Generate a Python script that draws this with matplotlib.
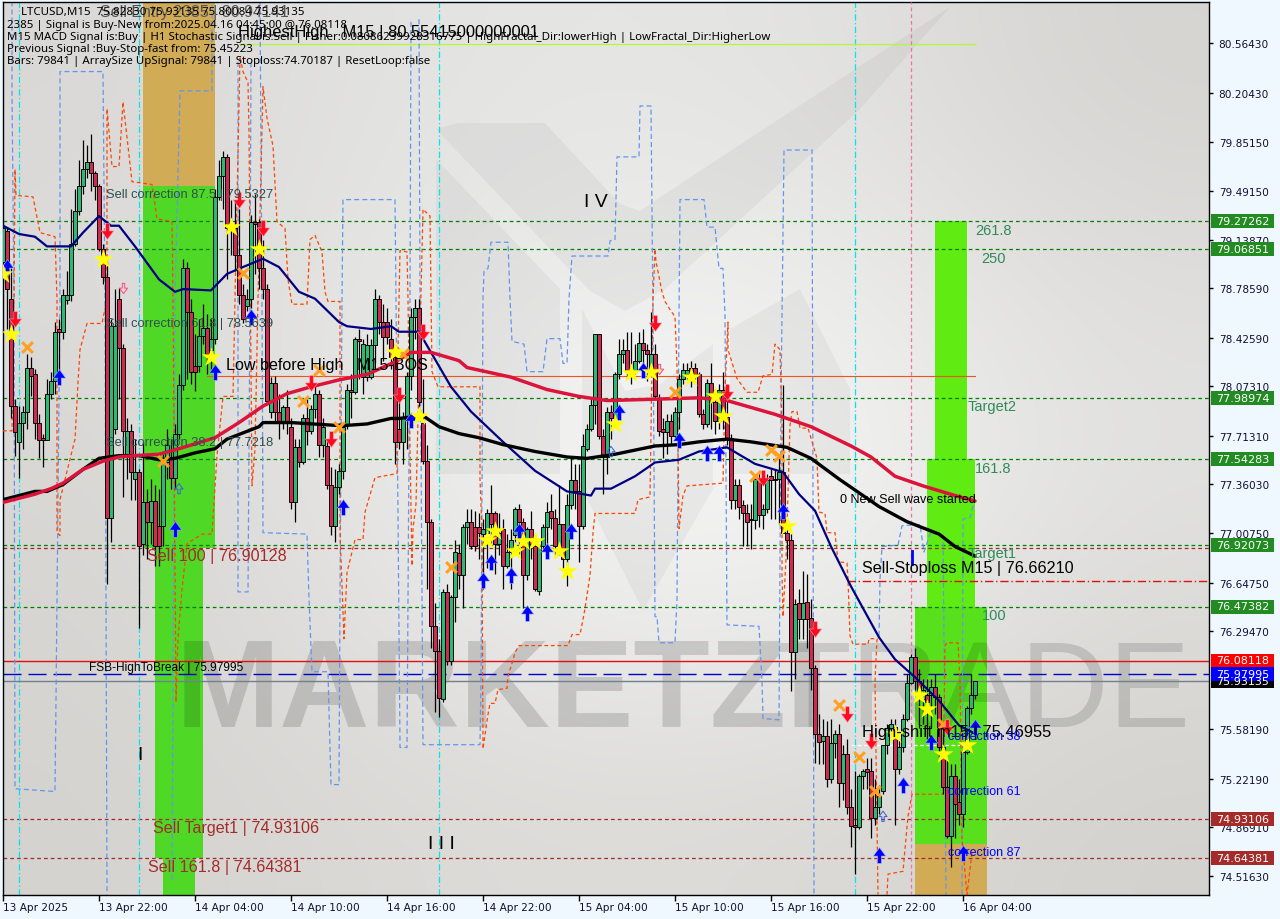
import numpy as np
import matplotlib
matplotlib.use("Agg")
import matplotlib.pyplot as plt
from matplotlib.colors import to_rgb
from matplotlib.patches import Polygon, Rectangle
from matplotlib.path import Path
from matplotlib.transforms import Affine2D

# ---------- candles: (open, high, low, close), one list per six-hour session
session_0 = [(78.98,79.25,78.82,79.22),(79.20,79.23,78.49,78.78),(78.71,78.93,77.84,77.93),(77.93,77.98,77.57,77.74),(77.67,77.93,77.41,77.81),(77.81,77.93,77.62,77.89),(77.89,78.31,77.76,78.21),(78.21,78.29,78.00,78.15),(78.16,78.20,77.69,77.81),(77.81,77.87,77.55,77.68),(77.70,77.73,77.49,77.68),(77.68,78.13,77.68,78.02),(78.02,78.18,77.98,78.11),(78.11,78.54,78.02,78.47),(78.49,78.56,78.10,78.47),(78.47,78.78,78.42,78.74),(78.70,78.91,78.67,78.74),(78.74,79.36,78.69,79.11),(79.11,79.51,79.09,79.35),(79.35,79.72,79.32,79.53),(79.53,79.86,79.47,79.65),(79.65,79.83,79.59,79.70),(79.70,79.91,79.49,79.62),(79.62,79.64,79.43,79.53)]
session_1 = [(79.53,79.54,79.06,79.07),(79.07,79.11,78.82,78.87),(78.87,78.98,76.64,77.12),(77.12,78.56,76.94,78.51),(77.76,78.78,77.73,78.51),(78.71,78.79,77.98,78.35),(78.35,78.38,77.27,77.75),(77.58,77.84,77.40,77.75),(77.75,77.80,77.25,77.45),(77.40,77.69,77.25,77.45),(77.45,77.47,76.32,76.91),(76.93,77.67,76.85,77.23),(77.23,77.33,76.82,77.09),(77.09,77.40,76.93,77.24),(77.24,77.36,76.77,76.91),(77.06,77.33,76.77,76.91),(77.06,77.58,76.91,77.52),(77.52,77.76,77.40,77.65),(77.55,77.69,77.33,77.41),(77.41,77.80,77.33,77.73),(77.73,78.16,77.69,78.08),(78.08,79.00,78.05,78.93),(78.93,78.98,78.13,78.61),(78.61,78.71,78.09,78.18)]
session_2 = [(78.22,78.45,78.04,78.18),(78.22,78.56,78.18,78.44),(78.44,78.67,78.38,78.50),(78.50,78.60,78.16,78.31),(78.34,78.56,78.20,78.42),(78.42,79.51,78.38,79.45),(79.45,79.72,79.43,79.60),(79.60,79.78,79.36,79.74),(79.74,79.76,78.85,79.22),(79.23,79.43,79.03,79.22),(79.22,79.43,78.91,79.03),(79.03,79.36,78.67,78.74),(78.74,78.82,78.53,78.56),(78.66,78.78,78.62,78.71),(78.71,79.32,78.64,79.27),(79.27,79.47,78.89,79.25),(79.27,79.29,78.78,78.93),(78.93,79.14,78.71,78.78),(78.78,78.82,77.94,77.97),(77.89,78.14,77.84,78.10),(78.10,78.15,77.82,77.89),(77.89,78.02,77.69,77.81),(77.81,77.94,77.76,77.92),(77.92,78.05,77.73,77.81)]
session_3 = [(77.78,77.84,77.18,77.23),(77.23,77.69,77.09,77.63),(77.63,77.69,77.49,77.52),(77.52,77.87,77.51,77.84),(77.84,77.98,77.65,77.75),(77.75,77.94,77.73,77.91),(77.91,78.09,77.84,78.02),(78.02,78.05,77.56,77.65),(77.65,77.84,77.56,77.78),(77.64,77.69,77.33,77.36),(77.36,77.49,76.99,77.06),(77.06,77.47,76.94,77.34),(77.34,77.51,77.29,77.46),(77.46,77.80,77.40,77.78),(77.80,78.09,77.76,78.05),(78.05,78.16,77.84,78.03),(78.03,78.43,78.02,78.42),(78.42,78.49,78.13,78.40),(78.14,78.42,78.02,78.38),(78.14,78.45,78.11,78.37),(78.14,78.42,78.13,78.37),(78.37,78.78,78.24,78.71),(78.71,78.74,78.45,78.54),(78.54,78.67,78.26,78.43)]
session_4 = [(78.54,78.64,78.38,78.43),(78.42,78.56,78.20,78.29),(78.29,78.38,77.51,77.67),(77.76,77.98,77.62,77.67),(77.67,77.89,77.51,77.84),(77.84,78.18,77.62,78.15),(78.15,78.64,78.05,78.58),(78.58,78.71,78.42,78.64),(78.64,78.71,77.91,77.96),(77.81,78.13,77.51,77.53),(77.53,77.65,76.60,77.09),(77.09,77.11,76.17,76.33),(76.33,76.50,75.71,76.15),(76.15,76.24,75.67,75.81),(75.80,76.60,75.78,76.58),(76.58,76.64,76.05,76.08),(76.08,76.56,76.05,76.54),(76.54,76.96,76.36,76.87),(76.86,76.93,76.60,76.70),(76.70,77.07,76.46,77.05),(77.05,77.18,76.93,77.09),(77.09,77.18,76.89,76.91),(77.05,77.17,76.88,76.91),(77.05,77.15,76.82,77.01)]
session_5 = [(77.00,77.11,76.60,77.04),(77.01,77.18,76.75,77.15),(77.15,77.36,76.93,77.07),(77.15,77.17,76.71,76.93),(76.93,77.15,76.85,77.01),(77.04,77.11,76.60,76.77),(76.77,77.00,76.75,76.87),(76.87,77.04,76.60,76.96),(76.99,77.20,76.93,77.18),(77.18,77.22,76.85,77.09),(77.09,77.12,76.46,76.70),(76.70,77.05,76.67,77.04),(77.04,77.17,76.82,76.93),(76.91,76.93,76.59,76.60),(76.59,76.93,76.56,76.91),(76.91,77.07,76.89,77.05),(77.05,77.23,76.89,77.16),(77.17,77.29,77.04,77.12),(77.12,77.18,76.85,76.91),(76.91,77.36,76.85,77.07),(77.07,77.07,76.75,76.82),(76.82,77.29,76.62,77.21),(77.21,77.55,77.18,77.39),(77.39,77.51,77.18,77.31)]
session_6 = [(77.31,77.51,76.80,77.06),(77.06,77.73,77.04,77.64),(77.62,77.80,77.60,77.76),(77.76,77.98,77.75,77.94),(77.94,78.45,77.80,78.45),(78.45,78.45,77.69,77.71),(77.71,77.76,77.29,77.56),(77.56,77.92,77.44,77.89),(77.89,77.94,77.69,77.84),(77.84,78.18,77.82,78.16),(78.16,78.42,78.13,78.31),(78.31,78.42,78.24,78.34),(78.34,78.47,78.13,78.18),(78.21,78.47,78.09,78.18),(78.18,78.38,78.16,78.26),(78.26,78.47,78.24,78.39),(78.39,78.49,78.21,78.34),(78.34,78.38,78.11,78.31),(78.18,78.61,78.16,78.31),(78.31,78.38,77.98,78.00),(77.98,78.02,77.71,77.75),(77.76,77.84,77.55,77.74),(77.74,77.87,77.58,77.82),(77.82,77.87,77.65,77.71)]
session_7 = [(77.71,77.92,77.69,77.89),(77.89,78.16,77.76,78.13),(78.13,78.24,78.09,78.19),(78.16,78.24,78.13,78.19),(78.21,78.26,78.07,78.16),(78.21,78.24,78.13,78.16),(78.16,78.18,77.85,77.87),(77.87,77.91,77.76,77.80),(77.80,78.13,77.78,78.10),(78.10,78.24,77.76,77.96),(77.96,78.02,77.73,77.82),(77.82,78.09,77.76,78.05),(78.05,78.18,77.76,77.85),(77.85,78.09,77.65,77.70),(77.70,77.73,77.18,77.25),(77.25,77.40,77.18,77.36),(77.36,77.40,77.11,77.20),(77.21,77.25,76.91,77.15),(77.15,77.22,76.91,77.09),(77.11,77.22,76.89,77.10),(77.10,77.44,77.04,77.40),(77.40,77.46,77.05,77.14),(77.14,77.22,77.04,77.18),(77.18,77.44,77.15,77.39)]
session_8 = [(77.42,77.47,77.11,77.39),(77.39,77.47,77.11,77.40),(77.40,77.58,77.07,77.45),(77.45,78.08,77.04,77.01),(77.01,77.11,76.82,76.96),(76.96,77.00,75.86,76.14),(76.14,76.53,75.95,76.49),(76.50,76.60,76.24,76.38),(76.38,76.73,76.24,76.50),(76.51,76.71,76.17,76.38),(76.39,76.53,75.87,76.03),(76.03,76.05,75.34,75.55),(75.55,75.69,75.33,75.49),(75.50,75.66,75.33,75.53),(75.53,75.64,75.16,75.22),(75.22,75.66,75.19,75.48),(75.48,75.58,75.37,75.55),(75.55,75.62,75.02,75.19),(75.19,75.47,75.07,75.40),(75.40,75.51,74.97,75.02),(75.02,75.15,74.73,74.88),(74.89,75.28,74.53,74.87),(74.87,75.26,74.86,75.24),(75.24,75.29,75.15,75.28)]
session_9 = [(75.29,75.37,75.15,75.27),(75.28,75.37,74.79,74.94),(74.94,75.22,74.89,75.02),(75.02,75.18,74.97,75.10),(75.13,75.47,75.11,75.47),(75.47,75.62,75.40,75.59),(75.59,75.66,75.55,75.62),(75.60,75.66,74.89,75.29),(75.29,75.51,75.26,75.45),(75.45,75.69,75.42,75.66),(75.66,75.98,75.64,75.92),(75.92,76.13,75.91,76.11),(76.11,76.17,75.87,75.93),(75.93,76.02,75.59,75.80),(75.80,75.95,75.62,75.87),(75.83,75.95,75.51,75.78),(75.83,75.95,75.59,75.89),(75.89,75.98,75.69,75.82),(75.82,75.84,75.37,75.45),(75.45,75.55,75.11,75.16),(75.16,75.37,74.79,74.81),(74.81,75.33,74.58,75.24),(75.24,75.33,74.79,75.04),(75.05,75.22,74.89,74.97),(74.97,75.44,74.87,75.42),(75.42,75.75,75.40,75.74),(75.74,75.98,75.69,75.83),(75.83,75.93,75.80,75.93)]
sessions = [session_0, session_1, session_2, session_3, session_4, session_5, session_6, session_7, session_8, session_9]

# ---------- moving averages: (bar, price)
ma_navy = [(0,79.24),(4,79.18),(8,79.16),(11,79.09),(14,79.09),(17,79.09),(20,79.19),(24,79.31),(27,79.24),(29,79.24),(33,79.09),(39,78.85),(43,78.76),(45,78.78),(52,78.77),(56,78.89),(60,78.94),(65,79.00),(69,78.94),(74,78.76),(78,78.71),(84,78.54),(86,78.51),(92,78.49),(97,78.51),(99,78.47),(104,78.47),(108,78.27),(112,78.07),(117,77.89),(125,77.67),(133,77.46),(141,77.31),(147,77.28),(148,77.33),(152,77.33),(158,77.42),(163,77.52),(169,77.54),(174,77.60),(181,77.63),(188,77.51),(195,77.45),(199,77.29),(203,77.17),(207,76.91),(212,76.62),(219,76.25),(223,76.09),(228,75.96),(234,75.79),(239,75.61),(243,75.55)]
ma_black = [(0,77.25),(8,77.31),(11,77.31),(15,77.36),(20,77.47),(24,77.55),(29,77.57),(34,77.57),(39,77.54),(43,77.55),(48,77.59),(53,77.62),(56,77.69),(64,77.78),(65,77.81),(72,77.81),(83,77.79),(86,77.79),(91,77.80),(97,77.84),(99,77.84),(105,77.86),(109,77.78),(114,77.73),(119,77.70),(125,77.65),(133,77.60),(141,77.56),(146,77.55),(153,77.58),(163,77.64),(169,77.65),(174,77.67),(181,77.69),(187,77.67),(196,77.63),(202,77.55),(209,77.40),(219,77.20),(226,77.09),(234,77.00),(238,76.91),(243,76.84)]
ma_crimson = [(0,77.23),(8,77.29),(12,77.33),(15,77.37),(20,77.47),(25,77.53),(29,77.56),(33,77.57),(39,77.58),(44,77.62),(53,77.70),(59,77.81),(65,77.93),(71,78.02),(77,78.07),(84,78.12),(91,78.16),(98,78.25),(102,78.32),(107,78.32),(114,78.26),(116,78.21),(127,78.14),(136,78.05),(144,78.00),(151,77.97),(163,77.98),(174,77.99),(181,77.97),(193,77.87),(199,77.81),(202,77.78),(212,77.64),(217,77.56),(223,77.42),(230,77.35),(238,77.28),(243,77.24)]

# ---------- dashed envelopes: (bar, price)
orange_a = [(0,77.75),(2.25,77.75),(2.75,78.71),(3,79.65),(3.25,79.46),(7.5,79.45),(9.25,79.19),(13,79.16),(13.5,78.71),(13.5,77.01),(14.25,76.99),(14.25,77.25),(18,77.69),(18.75,78.10),(19.25,78.34),(21,78.53),(24.75,78.53),(26,78.71),(26,80.09),(27.25,79.67),(29,79.67),(30,80.14),(32.25,79.56),(37.25,79.54),(38.5,79.29),(42.25,79.27),(42.5,78.71),(43.25,75.78),(43.75,76.24),(44.75,76.60),(46,76.93),(49.75,77.00),(52.25,77.00),(53.5,77.57),(55,78.00),(57.5,78.00),(59.25,80.47),(60,80.36),(61.25,80.28),(61.5,79.92),(62.25,77.35),(63,77.62),(63.75,78.71),(65,80.25),(66,80.02),(67.5,79.82),(68.5,79.27),(70.5,79.22),(71.25,78.85),(72.25,78.67),(76,78.67),(76.75,79.14),(78,79.17),(79.75,79.05),(80.5,78.76),(81.25,78.69),(84.25,78.69),(84.25,77.01),(85.25,76.24),(86,76.72),(88,76.96),(90,76.96),(90.5,77.16),(93,77.41),(98.5,77.44),(98.5,77.98),(99.25,79.06),(101,79.05),(101.25,78.71),(101.75,77.62),(102.25,76.77),(102.5,77.04),(103.25,77.22),(105,79.36),(106.75,79.31),(107.25,78.18),(108.75,78.07),(119.25,78.07),(119.25,77.40),(119.75,77.01),(120,75.44),(120.75,75.59),(121.25,75.69),(121.75,75.77),(123,75.77),(123.75,75.87),(126,75.88),(126.25,75.97),(127.25,76.06),(128,76.14),(129,76.19),(141.25,76.19),(142.25,76.27),(144.25,76.27),(145,76.38),(145.5,76.46),(146.75,76.70),(147.5,77.01),(148,77.15),(158,77.15),(158.75,77.25),(161.75,77.27),(162.5,78.71),(163,79.07),(163.25,78.98),(164.75,78.76),(165.5,78.69),(167,78.62),(168,78.58),(168.5,78.22),(169,77.04),(170,77.28),(171,77.35),(180,77.37),(180.5,78.05),(181.25,78.54),(181.25,78.34),(183.5,78.13),(186,78.03),(188.75,78.03),(190,78.15),(192.25,78.16),(193,78.38),(194.25,78.34),(194.75,77.79),(194.75,76.70),(195,76.40),(195.75,76.82),(196.75,77.79),(197.25,77.89),(198.5,77.89),(199.25,77.77),(201.25,77.77),(203.5,77.55),(204,77.16),(205.5,77.15),(206,77.01),(208,77.01),(208.75,76.80),(211,76.79),(211.25,76.67),(211.75,76.26),(212.5,76.20),(216.25,76.20),(216.5,76.24),(218.5,76.24),(218,75.93),(218.75,74.38)]
orange_b = [(221,74.38),(221.25,74.53),(225,74.55),(226.25,74.95),(227.25,75.11),(235,75.11),(235.5,76.19),(236,76.21),(238.75,76.21),(239.25,75.93),(239.75,74.79),(241,74.38),(242.25,74.69)]

blue_a = [(2.25,80.87),(2.25,80.20),(2.75,78.71),(3,75.15),(13,75.13),(13.25,75.80),(14.25,78.71),(14.25,80.36),(25,80.36),(25.5,78.71),(26,74.38)]
blue_b = [(42.25,74.49),(43,78.71),(44.25,80.22),(52.25,80.22),(52.25,80.87)]
blue_c = [(58.75,80.43),(58.75,76.58),(59,76.58),(61.25,76.58),(61.75,78.71),(62,80.43)]
blue_d = [(64.25,80.87),(64.75,78.71),(65,77.01),(76,77.00),(76.5,76.53),(77.25,76.00),(81.25,76.00),(81.5,75.71),(82,75.18),(84,75.18),(84.25,76.53),(84.75,78.71),(85,79.43),(98,79.43),(98.5,77.98),(99.25,75.45),(101,75.45),(101.75,78.71),(102,80.74)]
blue_e = [(104,80.74),(104.25,78.71),(105,75.47),(119.25,75.47),(119.5,75.93),(120,78.71),(120.25,78.91),(121.25,78.93),(122,79.12),(126.25,79.12),(126.75,78.71),(127.25,78.40),(130.25,78.38),(131,78.18),(135,78.18),(136,78.42),(139.25,78.42),(140,78.24),(141,78.24),(141.5,78.71),(142.25,79.02),(151.25,79.02),(151.75,79.13),(153,79.14),(153.5,79.74),(159,79.74),(159.25,80.11),(162,80.11),(162.5,78.59),(163,76.40),(163.5,76.40),(164,76.21),(168,76.21),(168.5,76.53),(169,78.59),(169.25,79.43),(175.25,79.43),(176,79.23),(178,79.23),(179,78.93),(180,78.93),(180.5,78.59),(181,76.34),(189,76.33),(189.75,75.93),(190,75.66),(194,75.65),(194.5,77.98),(195.25,79.79),(202.25,79.79),(202.5,77.25),(202.75,74.38)]
blue_f = [(219,76.26),(219.25,76.67),(219.75,76.91),(223.75,76.92),(224.75,77.06),(229.25,77.07),(230.25,76.87),(231.75,77.00),(235,77.00),(235.25,76.24),(235.75,74.38)]
blue_g = [(239.75,74.38),(240,77.11),(241.75,77.12),(242.75,77.23)]

# ---------- signal markers: (bar, price)
star_marks = [(0,78.89),(2,78.45),(25,79.00),(57,79.23),(64,79.07),(52,78.29),(98,78.32),(104,77.86),(153,77.80),(157,78.17),(162,78.18),(172,78.14),(178,78.00),(180,77.86),(121,76.96),(123,77.02),(128,76.88),(130,76.95),(133,76.95),(139,76.88),(141,76.73),(196,77.06),(229,75.83),(231,75.73),(235,75.40),(241,75.47),(223,75.55)]
up_marks = [(1,78.94),(14,78.14),(43,77.04),(53,78.18),(62,78.58),(85,77.20),(102,77.83),(120,76.67),(122,76.80),(127,76.70),(129,77.02),(136,76.88),(142,77.02),(131,76.43),(154,77.89),(160,78.19),(169,77.68),(176,77.59),(179,77.59),(195,77.17),(219,74.67),(225,75.18),(232,75.49),(243,75.60),(240,74.68)]
down_marks = [(3,78.56),(26,79.20),(59,79.43),(65,79.22),(77,78.10),(82,77.69),(99,78.01),(105,78.47),(163,78.53),(181,78.03),(190,77.41),(203,76.31),(211,75.69),(217,75.50),(236,75.60)]
cross_marks = [(6,78.36),(60,78.90),(40,77.53),(75,77.97),(79,78.19),(84,77.78),(100,78.31),(112,76.76),(168,78.03),(192,77.61),(194,77.57),(188,77.42),(209,75.76),(214,75.38),(218,75.13),(235,75.62)]
pink_marks = [(30,78.79),(164,78.20)]
hollow_blue_marks = [(44,77.33),(152,77.60),(220,74.95)]

# ---------- levels and labels
green_levels = [79.27262, 79.06851, 77.98974, 77.54283, 76.92073, 76.47382]
brown_levels = [76.90128, 74.93106, 74.64381]
tag_green = [79.27262, 79.06851, 77.98974, 77.54283, 76.92073, 76.47382]
tag_brown = [74.93106, 74.64381]
price_ticks = [80.56430, 80.20430, 79.85150, 79.49150, 79.13870, 78.78590, 78.42590, 78.07310, 77.71310, 77.36030, 77.00750, 76.64750, 76.29470, 75.58190, 75.22190, 74.86910, 74.51630]
time_bars = [0, 24, 48, 72, 96, 120, 144, 168, 192, 216, 240]
time_labels = ["13 Apr 2025", "13 Apr 22:00", "14 Apr 04:00", "14 Apr 10:00", "14 Apr 16:00", "14 Apr 22:00", "15 Apr 04:00", "15 Apr 10:00", "15 Apr 16:00", "15 Apr 22:00", "16 Apr 04:00"]
cyan_bars = [4, 34, 109, 213]
pink_bar = 227
comments = ["2385 | Signal is Buy-New from:2025.04.16 04:45:00 @ 76.08118",
            "M15 MACD Signal is:Buy | H1 Stochastic Signal is:Sell | Fisher:0.08086239928316775 | HighFractal_Dir:lowerHigh | LowFractal_Dir:HigherLow",
            "Previous Signal :Buy-Stop-fast from: 75.45223",
            "Bars: 79841 | ArraySize UpSignal: 79841 | Stoploss:74.70187 | ResetLoop:false"]

# ---------- background shade grid
bg_rows = [["#d9d8d6", "#e2e2e0", "#e6e6e5", "#e2e2e0", "#d6d4d1"],
           ["#dcdbd9", "#e4e4e3", "#efefef", "#ebebea", "#dedddb"],
           ["#d8d7d4", "#e6e6e5", "#f8f8f8", "#f5f5f5", "#e2e2e0"],
           ["#d6d5d2", "#e2e1df", "#ececeb", "#ebebea", "#dbdad7"],
           ["#d4d3d0", "#dad9d6", "#dddcd9", "#dad9d6", "#d3d2ce"]]

W, H = 1280, 920
fig = plt.figure(figsize=(W / 100, H / 100), dpi=100, facecolor="#F0F8FF")
ax = fig.add_axes([3 / W, (H - 896) / H, 1206 / W, 893.5 / H])
ax.set_xlim(0, 301.5)
ax.set_ylim(74.378, 80.869)
ax.set_facecolor("#e6e6e6")

px = Affine2D().scale(1, -1).translate(0, H)   # screen pixels, y down


def label(x, y, s, size=9, color="black", family="Liberation Sans", **kw):
    ax.text(x, y, s, transform=px, fontsize=size, color=color, family=family,
            va="center", ha=kw.pop("ha", "left"), clip_on=False, **kw)


bg = np.array([[to_rgb(c) for c in row] for row in bg_rows])
ax.imshow(bg, extent=(0, 1, 0, 1), transform=ax.transAxes, aspect="auto",
          interpolation="bicubic", zorder=0)
ax.set_xlim(0, 301.5)
ax.set_ylim(74.378, 80.869)

# ---------- logo shapes behind everything
logo_shapes = [
    [(458, 124), (545, 124), (620, 205), (640, 212), (665, 195), (950, 8), (860, 110), (665, 290), (625, 312), (590, 292), (436, 130)],
    [(436, 160), (436, 475), (560, 475), (560, 290)],
    [(582, 310), (582, 490), (643, 612), (713, 490), (713, 345), (660, 385), (625, 392)],
    [(730, 330), (730, 475), (850, 475), (850, 390), (800, 290)],
]
for pts in logo_shapes:
    ax.add_patch(Polygon(pts, closed=True, transform=px, facecolor="black", alpha=0.04,
                         edgecolor="none", zorder=0.5))

# ---------- Fibonacci blocks
GOLD, G1, G2 = "#D1AB55", "#4FD926", "#60EC12"
for b0, b1, lo, hi, col in [
    (35, 53, 79.53, 80.869, GOLD),
    (35, 53, 76.90128, 79.53, G1),
    (38, 50, 74.64381, 76.90128, G1),
    (40, 48, 74.378, 74.64381, G1),
    (233, 241, 77.54283, 79.27262, G2),
    (231, 243, 76.47382, 77.54283, G2),
    (228, 246, 74.75, 76.47382, "#58E01C"),
    (228, 246, 74.378, 74.75, GOLD),
]:
    ax.add_patch(Rectangle((b0, lo), b1 - b0, hi - lo, facecolor=col, edgecolor="none", zorder=1))

# ---------- watermark
ax.text(176, 727, "MARKETZI", transform=px, fontsize=90, fontweight="bold", family="Liberation Sans",
        color="black", alpha=0.14, va="baseline", zorder=1.5)
ax.text(776, 727, "TRADE", transform=px, fontsize=88,
        family=["Liberation Sans Narrow", "Liberation Sans"],
        color="black", alpha=0.13, va="baseline", zorder=1.5)

# ---------- levels and verticals
for v in green_levels:
    ax.axhline(v, color="#008000", lw=0.9, ls=(0, (3, 2.4)), zorder=2)
for v in brown_levels:
    ax.axhline(v, color="#A52A2A", lw=0.9, ls=(0, (3, 2.4)), zorder=2)
for b in cyan_bars:
    ax.axvline(b, color="#00E5EE", lw=0.9, ls=(0, (5, 2, 1, 2)), zorder=2)
ax.axvline(pink_bar, color="#EE72A8", lw=0.9, ls=(0, (3, 2.4)), zorder=2.7)
ax.axhline(76.08118, color="#E01010", lw=1.0, zorder=2)
ax.axhline(75.97995, color="#0000CC", lw=1.0, ls=(0, (13, 5)), zorder=2)
ax.axhline(75.93135, color="#708090", lw=1.0, zorder=2)
ax.plot([51, 243], [78.15, 78.15], color="#F4511E", lw=0.8, zorder=2)
ax.plot([59, 243], [80.56, 80.56], color="#ADFF2F", lw=0.9, zorder=2)
ax.plot([211, 301.5], [76.6621, 76.6621], color="#E01010", lw=1.0, ls=(0, (6, 2, 1, 2)), zorder=2)
ax.plot([212, 240], [75.46955, 75.46955], color="white", lw=0.9, ls=(0, (3, 2)), zorder=2)
ax.plot([227.2, 227.2], [76.78, 76.88], color="#0000FF", lw=2, zorder=5)

# ---------- dashed envelopes
for seg in (blue_a, blue_b, blue_c, blue_d, blue_e, blue_f, blue_g):
    a = np.array(seg)
    ax.plot(a[:, 0], a[:, 1], color="#6495ED", lw=0.9, ls=(0, (4, 2.5)), zorder=2.5)
for seg in (orange_a, orange_b):
    a = np.array(seg)
    ax.plot(a[:, 0], a[:, 1], color="#FF4500", lw=0.9, ls=(0, (3, 2.2)), zorder=2.6)

# ---------- candles
rows = np.array([r for s in sessions for r in s])
bars = np.arange(len(rows))
o, hi, lo, c = rows.T
ax.vlines(bars, lo, hi, color="black", lw=0.9, zorder=3)
up = c >= o
ax.bar(bars, np.abs(c - o), bottom=np.minimum(o, c), width=0.8,
       color=np.where(up, "#2EB872", "#D02A50"), edgecolor="black", linewidth=0.65, zorder=3.1)

# ---------- moving averages
for series, col, w in ((ma_navy, "#000080", 1.6), (ma_black, "#000000", 2.4), (ma_crimson, "#DC143C", 2.5)):
    a = np.array(series)
    ax.plot(a[:, 0], a[:, 1], color=col, lw=w, zorder=4, solid_capstyle="round")

# ---------- markers
arrow_up = Path([(-0.16, -0.7), (-0.16, -0.05), (-0.55, -0.05), (0, 0.7), (0.55, -0.05), (0.16, -0.05), (0.16, -0.7), (-0.16, -0.7)], closed=True)
arrow_dn = Path([(-0.16, 0.7), (-0.16, 0.05), (-0.55, 0.05), (0, -0.7), (0.55, 0.05), (0.16, 0.05), (0.16, 0.7), (-0.16, 0.7)], closed=True)


def xy(m):
    a = np.array(m)
    return a[:, 0], a[:, 1]


ax.scatter(*xy(cross_marks), marker="x", s=60, color="#FFA01E", linewidths=2.2, zorder=5)
ax.scatter(*xy(up_marks), marker=arrow_up, s=130, color="#0000FF", edgecolors="#9DB8FF", linewidths=0.4, zorder=5.1)
ax.scatter(*xy(down_marks), marker=arrow_dn, s=130, color="#FF0A1E", edgecolors="#FF9DB0", linewidths=0.4, zorder=5.1)
ax.scatter(*xy(star_marks), marker="*", s=220, color="#FFFF00", linewidths=0, zorder=5.2)
ax.scatter(*xy(pink_marks), marker=arrow_dn, s=55, facecolor="#FFD0D8", edgecolors="#F0507A", linewidths=0.7, zorder=5)
ax.scatter(*xy(hollow_blue_marks), marker=arrow_up, s=55, facecolor="none", edgecolors="#3060E0", linewidths=0.7, zorder=5)

# ---------- chart labels
Z = dict(zorder=6)
label(100, 13, "Sell Entry 2385 | 80.94141", 11.5, "#555555", **Z)
label(238, 33, "HighestHigh   M15 | 80.55415000000001", 11.9, "black", **Z)
label(21, 13, "LTCUSD,M15  75.82830 75.93135 75.80084 75.93135", 8.3, "black", family="Noto Sans", **Z)
for yy, s in zip((26, 37.5, 49.5, 61.5), comments):
    label(7, yy, s, 8.25, "black", family="Noto Sans", **Z)
DS = "#2F4F4F"
label(106, 195, "Sell correction 87.5 | 79.5327", 9.3, DS, **Z)
label(106, 324, "Sell correction 61.8 | 78.5639", 9.3, DS, **Z)
label(106, 443, "Sell correction 38.2 | 77.7218", 9.3, DS, **Z)
BR = "#A52A2A"
label(147, 557, "Sell 100 | 76.90128", 11.6, BR, **Z)
label(153, 829, "Sell Target1 | 74.93106", 11.6, BR, **Z)
label(148, 868, "Sell 161.8 | 74.64381", 11.6, BR, **Z)
label(226, 366, "Low before High   M15-BOS", 11.6, "black", **Z)
label(89, 668, "FSB-HighToBreak | 75.97995", 8.6, "black", **Z)
label(584, 203, "I V", 14, "black", **Z)
label(428, 845, "I I I", 14, "black", **Z)
label(137, 756, "I", 14, "black", **Z)
SG = "#2E8B57"
for xx, yy, s in ((975, 231, "261.8"), (981, 259, "250"), (968, 407, "Target2"), (975, 469, "161.8"), (968, 554, "Target1"), (982, 616, "100")):
    label(xx, yy, s, 10.5, SG, **Z)
label(840, 500, "0 New Sell wave started", 9.1, "black", **Z)
label(862, 569, "Sell-Stoploss M15 | 76.66210", 11.6, "black", **Z)
label(862, 733, "High-shift m15 | 75.46955", 11.9, "black", **Z)
label(948, 737, "correction 38", 9, "#0000FF", **Z)
label(948, 792, "correction 61", 9, "#0000FF", **Z)
label(948, 853, "correction 87", 9, "#0000FF", **Z)

# ---------- axes furniture
for s in ax.spines.values():
    s.set_color("black")
    s.set_linewidth(1.0)
ax.yaxis.tick_right()
ax.set_yticks(price_ticks)
ax.set_yticklabels([f"{v:.5f}" for v in price_ticks], fontsize=7.6, family="DejaVu Sans", color="#101030")
ax.tick_params(axis="y", direction="out", length=3, width=1, pad=4)
ax.set_xticks(time_bars)
ax.set_xticklabels(time_labels, fontsize=7.6, family="DejaVu Sans", ha="left", color="#101030")
ax.tick_params(axis="x", direction="out", length=4, width=1, pad=1)


# ---------- price tags on the axis
def tag(v, col):
    y = H - ax.transData.transform((0, v))[1]
    fig.add_artist(Rectangle((1211, y - 7), 63, 14, transform=px, facecolor=col, edgecolor="none", zorder=7))
    fig.text(1242.5, y - 0.2, f"{v:.5f}", transform=px, color="white", fontsize=8, family="DejaVu Sans",
             ha="center", va="center", zorder=8)


tag(75.93135, "black")
for v in tag_green:
    tag(v, "#228B22")
for v in tag_brown:
    tag(v, "#A52A2A")
tag(76.08118, "#FF0000")
tag(75.97995, "#0000FF")

fig.savefig("out.png", dpi=100, facecolor=fig.get_facecolor())
